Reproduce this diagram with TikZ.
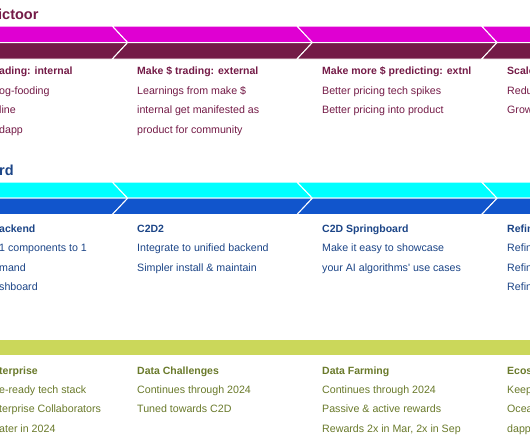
\documentclass[tikz,border=0pt]{standalone}
\usepackage{fontspec}
\newfontfamily\rob{Liberation Sans}
\definecolor{mag}{HTML}{DF00D2}
\definecolor{maroon}{HTML}{741B47}
\definecolor{cyanb}{HTML}{00FFFF}
\definecolor{blueb}{HTML}{1155CC}
\definecolor{bluet}{HTML}{1C4587}
\definecolor{oliveb}{HTML}{CBD75A}
\definecolor{olivet}{HTML}{6A7A2B}
\begin{document}
\begin{tikzpicture}[x=1pt,y=-1pt,
  txt/.style={anchor=base west,inner sep=0pt,font=\rob\fontsize{10.65}{13}\selectfont},
  hd/.style={anchor=base west,inner sep=0pt,font=\rob\fontsize{10.5}{13}\selectfont\bfseries},
  ttl/.style={anchor=base west,inner sep=0pt,font=\rob\fontsize{14.5}{16}\selectfont\bfseries},
  seg/.style={draw=white,line width=1pt}]
\clip (0,0) rectangle (530,442);
\fill[white] (0,0) rectangle (530,442);

% titles
\node[ttl,text=maroon] (t1) at (-2,19) {ictoor};
\node[ttl,text=bluet] (t2) at (-1,175) {rd};

% chevron bands
\foreach \k in {-1,0,1,2}{
  \pgfmathsetmacro\ca{112.3+184.7*\k}
  \pgfmathsetmacro\cb{\ca+184.7}
  \filldraw[seg,fill=mag] (\ca,26) -- (\cb,26) -- (\cb+15.4,42.5) -- (\ca+15.4,42.5) -- cycle;
  \filldraw[seg,fill=maroon] (\ca+15.4,42.5) -- (\cb+15.4,42.5) -- (\cb,59) -- (\ca,59) -- cycle;
  \filldraw[seg,fill=cyanb] (\ca,182) -- (\cb,182) -- (\cb+15.4,198.2) -- (\ca+15.4,198.2) -- cycle;
  \filldraw[seg,fill=blueb] (\ca+15.4,198.2) -- (\cb+15.4,198.2) -- (\cb,214.5) -- (\ca,214.5) -- cycle;
}
\filldraw[draw=white,line width=0.8pt,fill=oliveb] (-5,339) rectangle (535,355);

% section 1
\begin{scope}[every node/.append style={text=maroon}]
\node[hd]  (a1h) at (-1,74.7) {ading: internal};
\node[txt] (a1a) at (-1,94.2) {og-fooding};
\node[txt] (a1b) at (-1,113.7) {line};
\node[txt] (a1c) at (-1,133.2) {dapp};
\node[hd]  (a2h) at (137,74.7) {Make \$ trading: external};
\node[txt] (a2a) at (137,94.2) {Learnings from make \$};
\node[txt] (a2b) at (137,113.7) {internal get manifested as};
\node[txt] (a2c) at (137,133.2) {product for community};
\node[hd]  (a3h) at (322,74.7) {Make more \$ predicting: extnl};
\node[txt] (a3a) at (322,94.2) {Better pricing tech spikes};
\node[txt] (a3b) at (322,113.7) {Better pricing into product};
\node[hd]  (a4h) at (507,74.7) {Scale};
\node[txt] (a4a) at (507,94.2) {Redu};
\node[txt] (a4b) at (507,113.7) {Grow};
\end{scope}

% section 2
\begin{scope}[every node/.append style={text=bluet}]
\node[hd]  (b1h) at (-1,232.2) {ackend};
\node[txt] (b1a) at (-1,251.5) {1 components to 1};
\node[txt] (b1b) at (-1,271) {mand};
\node[txt] (b1c) at (-1,290.5) {shboard};
\node[hd]  (b2h) at (137,232.2) {C2D2};
\node[txt] (b2a) at (137,251.5) {Integrate to unified backend};
\node[txt] (b2b) at (137,271) {Simpler install \& maintain};
\node[hd]  (b3h) at (322,232.2) {C2D Springboard};
\node[txt] (b3a) at (322,251.5) {Make it easy to showcase};
\node[txt] (b3b) at (322,271) {your AI algorithms' use cases};
\node[hd]  (b4h) at (507,232.2) {Refin};
\node[txt] (b4a) at (507,251.5) {Refin};
\node[txt] (b4b) at (507,271) {Refin};
\node[txt] (b4c) at (507,290.5) {Refin};
\end{scope}

% section 3
\begin{scope}[every node/.append style={text=olivet}]
\node[hd]  (c1h) at (-1,374) {terprise};
\node[txt] (c1a) at (-1,393.3) {e-ready tech stack};
\node[txt] (c1b) at (-1,412.8) {terprise Collaborators};
\node[txt] (c1c) at (-1,432.3) {ater in 2024};
\node[hd]  (c2h) at (137,374) {Data Challenges};
\node[txt] (c2a) at (137,393.3) {Continues through 2024};
\node[txt] (c2b) at (137,412.8) {Tuned towards C2D};
\node[hd]  (c3h) at (322,374) {Data Farming};
\node[txt] (c3a) at (322,393.3) {Continues through 2024};
\node[txt] (c3b) at (322,412.8) {Passive \& active rewards};
\node[txt] (c3c) at (322,432.3) {Rewards 2x in Mar, 2x in Sep};
\node[hd]  (c4h) at (507,374) {Ecos};
\node[txt] (c4a) at (507,393.3) {Keep};
\node[txt] (c4b) at (507,412.8) {Ocea};
\node[txt] (c4c) at (507,432.3) {dapp};
\end{scope}
\end{tikzpicture}
\end{document}
